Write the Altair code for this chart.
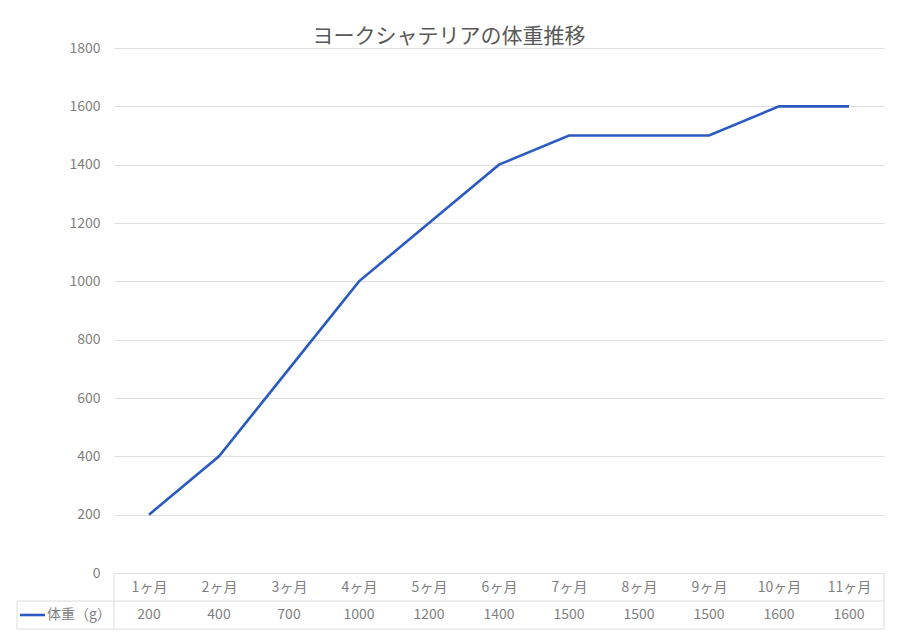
import altair as alt
import pandas as pd

months = ["1ヶ月", "2ヶ月", "3ヶ月", "4ヶ月", "5ヶ月", "6ヶ月", "7ヶ月", "8ヶ月", "9ヶ月", "10ヶ月", "11ヶ月"]
weights = [200, 400, 700, 1000, 1200, 1400, 1500, 1500, 1500, 1600, 1600]
series_name = "体重（g）"
title_text = "ヨークシャテリアの体重推移"

df = pd.DataFrame({"month": months, "weight": weights})

W, H = 770, 525
FONT = "Noto Sans CJK JP"
LINE = "#2b5bc0"
TXT = "#7f7f7f"
GRID = "#dedede"

xscale = alt.Scale(type="point", padding=0.5, domain=months)

base = alt.Chart(df)

line = base.mark_line(color=LINE, strokeWidth=2.6).encode(
    x=alt.X("month:N", scale=xscale, sort=months,
            axis=alt.Axis(title=None, domain=False, ticks=False, labelAngle=0,
                          labelPadding=7, labelFontSize=14, labelColor=TXT,
                          labelFont=FONT, grid=False)),
    y=alt.Y("weight:Q", scale=alt.Scale(domain=[0, 1800]),
            axis=alt.Axis(title=None, domain=False, ticks=False, format="d",
                          values=list(range(0, 1801, 200)),
                          labelPadding=14, labelFontSize=14, labelColor=TXT,
                          labelFont=FONT, gridColor=GRID, gridWidth=1)),
)

values_row = base.mark_text(fontSize=14, color=TXT, font=FONT, baseline="middle").encode(
    x=alt.X("month:N", scale=xscale, sort=months),
    y=alt.value(H + 42),
    text=alt.Text("weight:Q", format="d"),
)

lines_df = pd.DataFrame({"k": [0]})
lb = alt.Chart(lines_df)
rule_style = dict(color=GRID, strokeWidth=1)
h1 = lb.mark_rule(**rule_style).encode(x=alt.value(-97), x2=alt.value(W), y=alt.value(H + 28))
h2 = lb.mark_rule(**rule_style).encode(x=alt.value(-97), x2=alt.value(W), y=alt.value(H + 56))
v0 = lb.mark_rule(**rule_style).encode(x=alt.value(0), y=alt.value(H), y2=alt.value(H + 56))
v1 = lb.mark_rule(**rule_style).encode(x=alt.value(W), y=alt.value(H), y2=alt.value(H + 56))
v2 = lb.mark_rule(**rule_style).encode(x=alt.value(-97), y=alt.value(H + 28), y2=alt.value(H + 56))

key = lb.mark_rule(color=LINE, strokeWidth=2.6).encode(
    x=alt.value(-94), x2=alt.value(-69), y=alt.value(H + 42))
key_label = lb.mark_text(fontSize=14, color=TXT, font=FONT, align="left", baseline="middle").encode(
    x=alt.value(-67), y=alt.value(H + 42), text=alt.value(series_name))

title = lb.mark_text(fontSize=21, color="#595959", font=FONT, align="center",
                     baseline="middle").encode(
    x=alt.value(335), y=alt.value(-11), text=alt.value(title_text))

chart = alt.layer(h1, h2, v0, v1, v2, line, values_row, key, key_label, title).properties(
    width=W, height=H,
    autosize=alt.AutoSizeParams(type="none"),
    padding={"left": 106, "top": 40, "right": 8, "bottom": 60},
).configure(background="white").configure_view(stroke=None, strokeWidth=0)

chart.save("out.html", embed_options={"renderer": "svg", "actions": False})
